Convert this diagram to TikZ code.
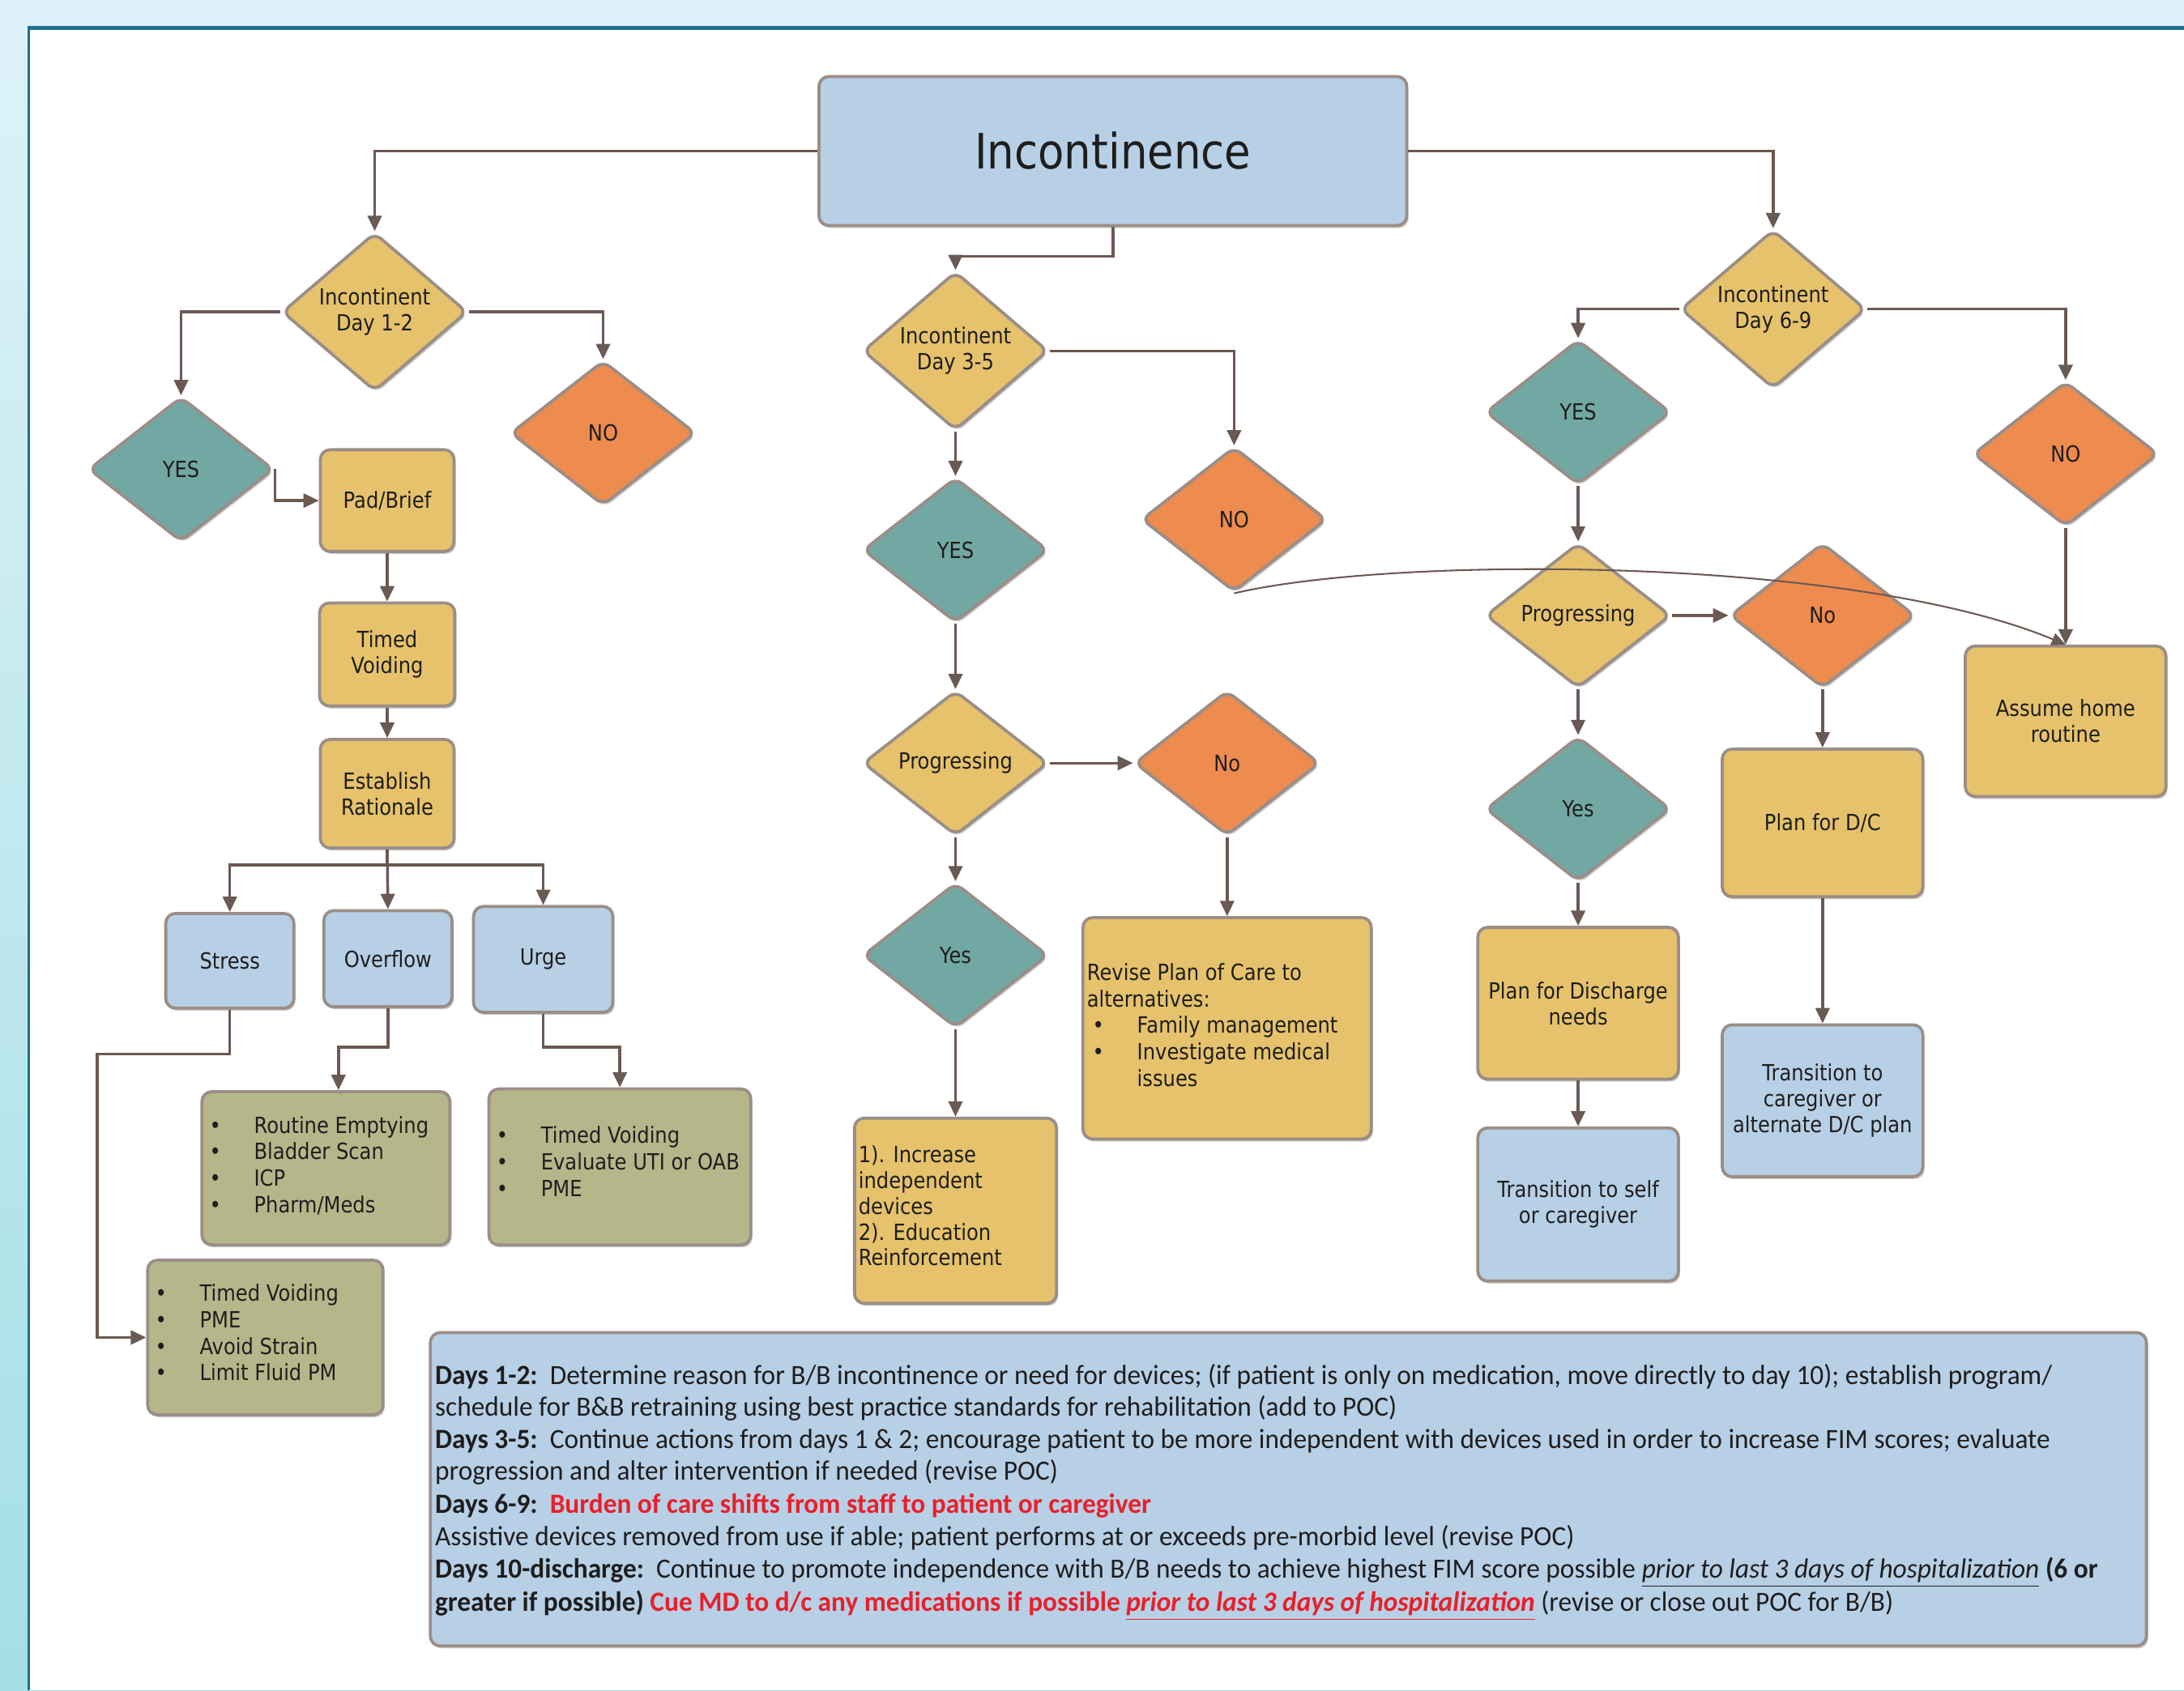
\documentclass[tikz,border=0pt]{standalone}
\usepackage{fontspec}
\setmainfont{DejaVu Sans}[FakeStretch=0.88]
\newfontfamily\notefont{Carlito}[FakeStretch=0.97]
\usetikzlibrary{shapes.geometric,arrows.meta,shadows,calc}
\definecolor{gold}{HTML}{E6C26C}
\definecolor{tealc}{HTML}{72A8A3}
\definecolor{orangec}{HTML}{EE8B4E}
\definecolor{ltblue}{HTML}{B8D0E6}
\definecolor{olive}{HTML}{B5B78A}
\definecolor{bord}{HTML}{9B8E87}
\definecolor{lnk}{HTML}{6B5954}
\definecolor{ink}{HTML}{1E1E1E}
\definecolor{redt}{HTML}{E8202A}
\definecolor{bgtop}{HTML}{DDF2F8}
\definecolor{bgbot}{HTML}{A4DFE5}
\definecolor{frame}{HTML}{1E6F8D}
\newcommand\dlab{\fontsize{8}{9.3}\selectfont}
\newcommand\blab{\fontsize{8}{9.5}\selectfont}
\newcommand\ttl{\fontsize{17.5}{20}\selectfont}
\newcommand\bul[1]{\makebox[16pt][l]{\textbullet}#1}
\begin{document}
\begin{tikzpicture}[x=0.5pt,y=-0.5pt,
  base/.style={draw=bord, line width=1.1pt, text=ink, font=\dlab,
    drop shadow={shadow xshift=0.6pt, shadow yshift=-0.9pt, fill=black!50, opacity=0.4}},
  box/.style={base, rectangle, rounded corners=3.5pt, align=center, inner sep=2pt},
  dia/.style={base, diamond, rounded corners=3pt, minimum width=66.5pt, minimum height=52pt, inner sep=0pt, align=center},
  conn/.style={draw=lnk, line width=1pt, -{Triangle[length=5.5pt,width=5pt]}},
  thinconn/.style={draw=lnk, line width=0.6pt, -{Triangle[length=5pt,width=4.5pt]}},
  txt/.style={anchor=west, align=left, inner sep=0pt, text=ink, font=\blab},
  notel/.style={anchor=base west, inner sep=0pt, text=ink, font=\notefont\fontsize{10}{11.5}\selectfont},
]
\useasboundingbox (0,0) rectangle (1568,1214);
% background
\shade[top color=bgtop, bottom color=bgbot] (0,0) rectangle (1568,1214);
\fill[white] (21,21) rectangle (1568,1214);
\draw[frame, line width=1.5pt] (20,20) -- (1568,20);
\draw[frame, line width=1pt] (20.5,20) -- (20.5,1214);

% main
\node[box, fill=ltblue, font=\ttl, minimum width=211pt, minimum height=53.5pt] (main) at (799,108.5) {Incontinence};

% left column
\node[dia, fill=gold] (d12) at (269,224) {Incontinent\\Day 1-2};
\node[dia, fill=tealc] (yes1) at (130,337) {YES};
\node[dia, fill=orangec] (no1) at (433,311) {NO};
\node[box, fill=gold, minimum width=48pt, minimum height=36.5pt] (pad) at (278,359.5) {Pad/Brief};
\node[box, fill=gold, minimum width=48.5pt, minimum height=37pt] (timed) at (278,470) {Timed\\Voiding};
\node[box, fill=gold, minimum width=48pt, minimum height=39pt] (est) at (278,570) {Establish\\Rationale};
\node[box, fill=ltblue, minimum width=46pt, minimum height=34pt] (stress) at (165,690) {Stress};
\node[box, fill=ltblue, minimum width=46pt, minimum height=34.5pt] (over) at (278.5,688.5) {Overflow};
\node[box, fill=ltblue, minimum width=50pt, minimum height=38pt] (urge) at (390,689) {Urge};
\node[box, fill=olive, minimum width=89pt, minimum height=55pt] (green1) at (234,839) {};
\node[box, fill=olive, minimum width=94pt, minimum height=56pt] (green2) at (445,838) {};
\node[box, fill=olive, minimum width=84.5pt, minimum height=55.5pt] (green3) at (190.5,960.5) {};
\node[txt] (g1t) at (150,837) {\bul{Routine Emptying}\\\bul{Bladder Scan}\\\bul{ICP}\\\bul{Pharm/Meds}};
\node[txt] (g2t) at (356,834) {\bul{Timed Voiding}\\\bul{Evaluate UTI or OAB}\\\bul{PME}};
\node[txt] (g3t) at (111,957) {\bul{Timed Voiding}\\\bul{PME}\\\bul{Avoid Strain}\\\bul{Limit Fluid PM}};

% middle column
\node[dia, fill=gold] (d35) at (686,252) {Incontinent\\Day 3-5};
\node[dia, fill=orangec] (no2) at (886,373) {NO};
\node[dia, fill=tealc] (yes2) at (686,395) {YES};
\node[dia, fill=gold] (prog2) at (686,548) {Progressing};
\node[dia, fill=orangec] (nob2) at (881,548) {No};
\node[dia, fill=tealc] (yes2b) at (686,686) {Yes};
\node[box, fill=gold, minimum width=72.5pt, minimum height=66.5pt] (incbox) at (686,869.5) {};
\node[txt, font=\fontsize{8}{9.25}\selectfont] (inct) at (616,866) {1). Increase\\independent\\devices\\2). Education\\Reinforcement};
\node[box, fill=gold, minimum width=103.5pt, minimum height=79.5pt] (revise) at (881,738.5) {};
\node[txt] (revt) at (780,736) {Revise Plan of Care to\\alternatives:\\\hspace*{2pt}\bul{Family management}\\\hspace*{2pt}\bul{Investigate medical}\\\hspace*{18pt}issues};

% right column
\node[dia, fill=gold] (d69) at (1273,222) {Incontinent\\Day 6-9};
\node[dia, fill=tealc] (yes3) at (1133,296) {YES};
\node[dia, fill=orangec] (no3) at (1483,326) {NO};
\node[dia, fill=gold] (prog3) at (1133,442) {Progressing};
\node[dia, fill=orangec] (no3b) at (1308.5,442) {No};
\node[dia, fill=tealc] (yes3b) at (1133,581) {Yes};
\node[box, fill=gold, minimum width=72pt, minimum height=54pt] (assume) at (1483,518) {Assume home\\routine};
\node[box, fill=gold, minimum width=72pt, minimum height=53pt] (plandc) at (1308.5,591) {Plan for D/C};
\node[box, fill=ltblue, minimum width=72pt, minimum height=54.5pt] (transcare) at (1308.5,790.5) {Transition to\\caregiver or\\alternate D/C plan};
\node[box, fill=gold, minimum width=72pt, minimum height=54.5pt] (plandis) at (1133,720.5) {Plan for Discharge\\needs};
\node[box, fill=ltblue, minimum width=72pt, minimum height=55pt] (transself) at (1133,865) {Transition to self\\or caregiver};

% note box
\node[box, fill=ltblue, minimum width=616pt, minimum height=112.5pt] (note) at (925,1069.5) {};
\node[notel] (n1) at (312,994) {\textbf{Days 1-2:}\ \ Determine reason for B/B incontinence or need for devices; (if patient is only on medication, move directly to day 10); establish program/};
\node[notel] (n2) at (312,1017) {schedule for B\&B retraining using best practice standards for rehabilitation (add to POC)};
\node[notel] (n3) at (312,1040) {\textbf{Days 3-5:}\ \ Continue actions from days 1 \& 2; encourage patient to be more independent with devices used in order to increase FIM scores; evaluate};
\node[notel] (n4) at (312,1063) {progression and alter intervention if needed (revise POC)};
\node[notel] (n5) at (312,1087) {\textbf{Days 6-9:}\ \ \textcolor{redt}{\textbf{Burden of care shifts from staff to patient or caregiver}}};
\node[notel] (n6) at (312,1110) {Assistive devices removed from use if able; patient performs at or exceeds pre-morbid level (revise POC)};
\node[notel] (n7) at (312,1133) {\textbf{Days 10-discharge:}\ \ Continue to promote independence with B/B needs to achieve highest FIM score possible \underline{\textit{prior to last 3 days of hospitalization}} \textbf{(6 or}};
\node[notel] (n8) at (312,1157) {\textbf{greater if possible)} \textcolor{redt}{\textbf{Cue MD to d/c any medications if possible \underline{\textit{prior to last 3 days of hospitalization}}}} (revise or close out POC for B/B)};

% connectors
\draw[conn] (main.west) -| (d12.north);
\draw[conn] (main.east) -| (d69.north);
\draw[conn] (main.south) -- ++(0,21) -| (d35.north);

\draw[conn] (d12.west) -| (yes1.north);
\draw[conn] (d12.east) -| (no1.north);
\draw[conn] (yes1.east) |- (pad.west);
\draw[conn] (pad.south) -- (timed.north);
\draw[conn] (timed.south) -- (est.north);
\draw[conn] (est.south) -- ++(0,11) -| (stress.north);
\draw[conn] (est.south) -- (over.north);
\draw[conn] (est.south) -- ++(0,11) -| (urge.north);
\draw[conn] (stress.south) -- ++(0,32) -| ($(green3.west)+(-35,0)$) -- (green3.west);
\draw[conn] (over.south) -- ++(0,28) -| ($(green1.north)+(9,0)$);
\draw[conn] (urge.south) -- ++(0,24) -| (green2.north);

\draw[conn] (d35.east) -| (no2.north);
\draw[conn] (d35.south) -- (yes2.north);
\draw[conn] (yes2.south) -- (prog2.north);
\draw[conn] (prog2.east) -- (nob2.west);
\draw[conn] (prog2.south) -- (yes2b.north);
\draw[conn] (yes2b.south) -- (incbox.north);
\draw[conn] (nob2.south) -- (revise.north);

\draw[conn] (d69.west) -| (yes3.north);
\draw[conn] (d69.east) -| (no3.north);
\draw[conn] (yes3.south) -- (prog3.north);
\draw[conn] (prog3.east) -- (no3b.west);
\draw[conn] (prog3.south) -- (yes3b.north);
\draw[conn] (yes3b.south) -- (plandis.north);
\draw[conn] (plandis.south) -- (transself.north);
\draw[conn] (no3b.south) -- (plandc.north);
\draw[conn] (plandc.south) -- (transcare.north);
\draw[conn] (no3.south) -- (assume.north);
\draw[thinconn] (no2.south) .. controls +(114,-27) and +(-154,-64) .. (assume.north);
\end{tikzpicture}
\end{document}
